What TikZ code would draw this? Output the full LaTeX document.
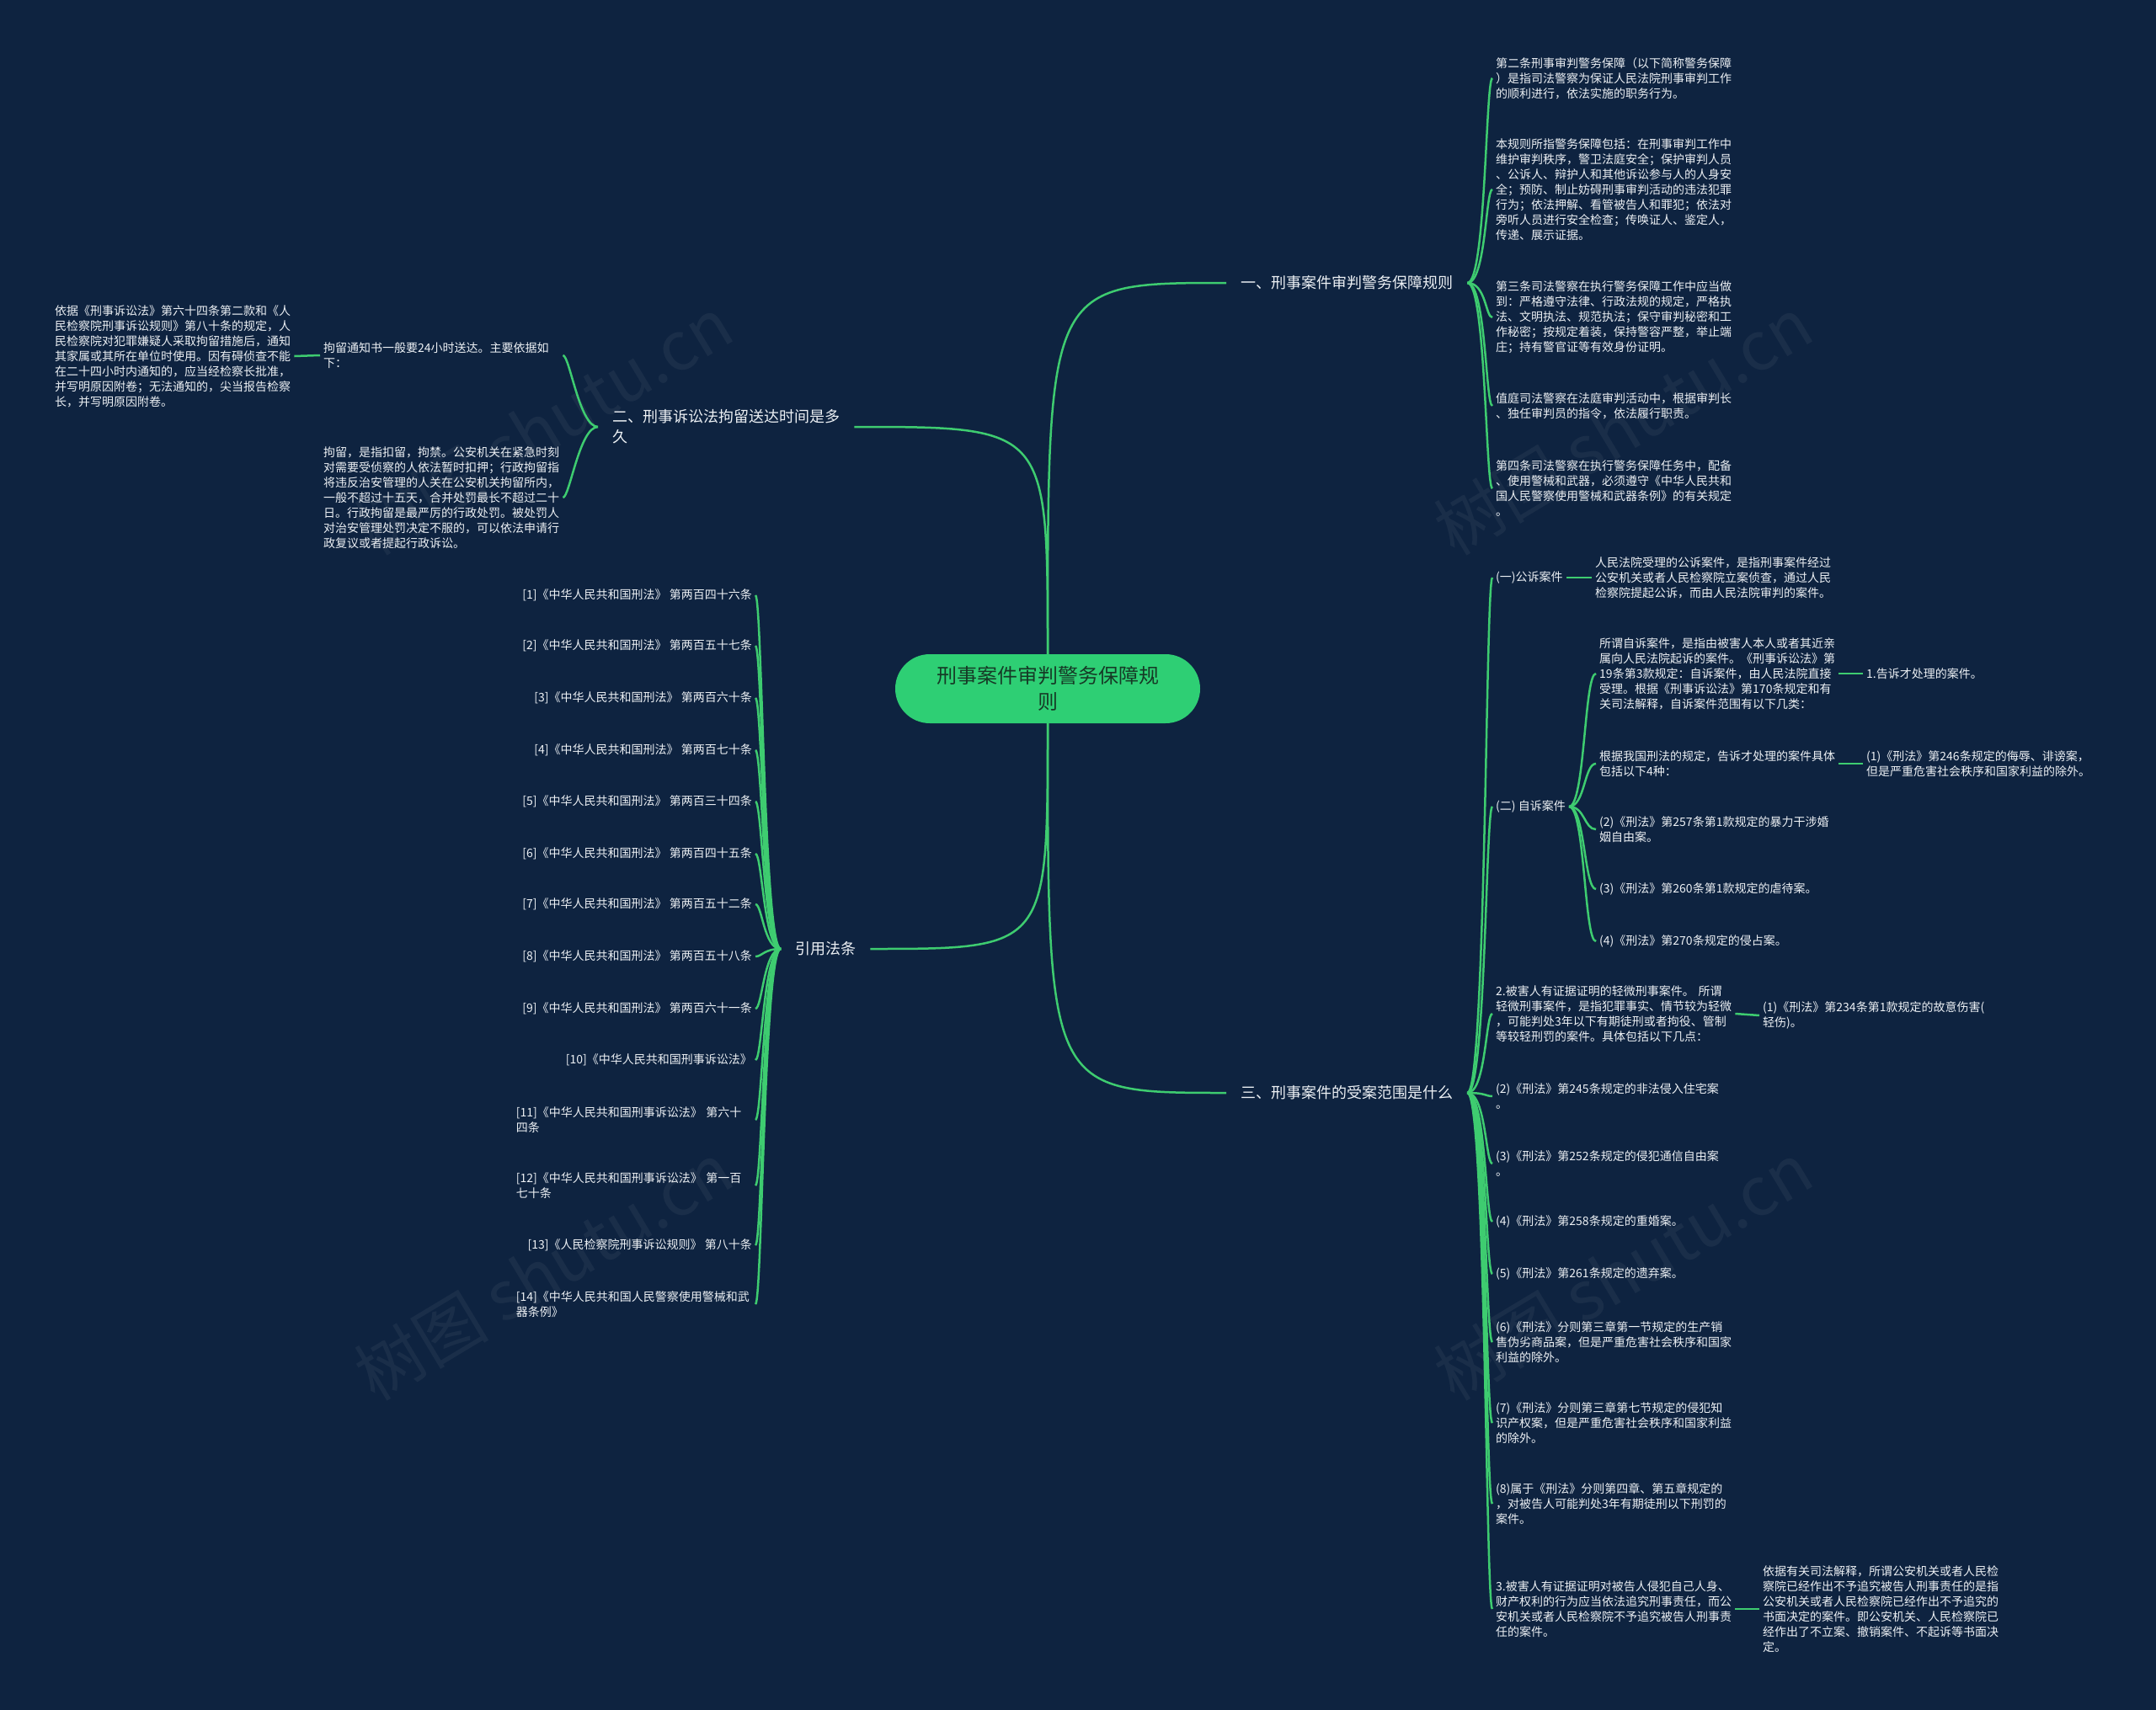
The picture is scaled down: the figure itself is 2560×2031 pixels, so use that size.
\documentclass[tikz,border=0pt]{standalone}
\usepackage{fontspec}
\setmainfont{Noto Sans CJK SC}
\definecolor{bg}{RGB}{14,35,64}
\definecolor{linec}{RGB}{62,204,112}
\definecolor{rootfill}{RGB}{46,207,116}
\definecolor{roottext}{RGB}{22,58,38}
\definecolor{txt}{RGB}{236,240,244}
\begin{document}
\begin{tikzpicture}[x=1pt,y=-1pt,
 every node/.style={inner sep=0pt, text=txt},
 root/.style={fill=rootfill, rounded corners=41pt, minimum width=362pt, minimum height=82pt, align=center, text=roottext, font=\fontsize{24}{31}\selectfont},
 lvone/.style={font=\fontsize{18}{24}\selectfont, align=left, inner xsep=17pt, inner ysep=3pt},
 leaf/.style={font=\fontsize{14}{18}\selectfont, align=left, inner xsep=4pt, inner ysep=2pt},
 wleaf/.style={leaf, text width=280pt},
 conn/.style={draw=linec, line width=2.5pt},
 wm/.style={rotate=31, text=white, opacity=0.05, font=\fontsize{80}{80}\selectfont}
]
\fill[bg] (0,0) rectangle (2560,2031);
\useasboundingbox (0,0) rectangle (2560,2031);

% watermarks
\node[wm] (wm1) at (645,506) {树图 shutu.cn};
\node[wm] (wm2) at (1927,506) {树图 shutu.cn};
\node[wm] (wm3) at (645,1510) {树图 shutu.cn};
\node[wm] (wm4) at (1927,1510) {树图 shutu.cn};

% root
\node[root] (root) at (1244,818) {刑事案件审判警务保障规\\则};

% level one
\node[lvone, anchor=west] (b1) at (1456,336) {一、刑事案件审判警务保障规则};
\node[lvone, anchor=west] (b3) at (1456,1298) {三、刑事案件的受案范围是什么};
\node[lvone, anchor=west] (b2) at (710,507) {二、刑事诉讼法拘留送达时间是多\\久};
\node[lvone, anchor=west] (b4) at (927,1127) {引用法条};

\draw[conn] (root.north) .. controls (1244,336) .. (b1.west);
\draw[conn] (root.south) .. controls (1244,1298) .. (b3.west);
\draw[conn] (root.north) .. controls (1244,507) .. (b2.east);
\draw[conn] (root.south) .. controls (1244,1127) .. (b4.east);

% branch one children
\node[leaf, anchor=west] (a1) at (1772,93) {第二条刑事审判警务保障（以下简称警务保障\\）是指司法警察为保证人民法院刑事审判工作\\的顺利进行，依法实施的职务行为。};
\node[leaf, anchor=west] (a2) at (1772,225) {本规则所指警务保障包括：在刑事审判工作中\\维护审判秩序，警卫法庭安全；保护审判人员\\、公诉人、辩护人和其他诉讼参与人的人身安\\全；预防、制止妨碍刑事审判活动的违法犯罪\\行为；依法押解、看管被告人和罪犯；依法对\\旁听人员进行安全检查；传唤证人、鉴定人，\\传递、展示证据。};
\node[leaf, anchor=west] (a3) at (1772,377) {第三条司法警察在执行警务保障工作中应当做\\到：严格遵守法律、行政法规的规定，严格执\\法、文明执法、规范执法；保守审判秘密和工\\作秘密；按规定着装，保持警容严整，举止端\\庄；持有警官证等有效身份证明。};
\node[leaf, anchor=west] (a4) at (1772,482) {值庭司法警察在法庭审判活动中，根据审判长\\、独任审判员的指令，依法履行职责。};
\node[leaf, anchor=west] (a5) at (1772,580) {第四条司法警察在执行警务保障任务中，配备\\、使用警械和武器，必须遵守《中华人民共和\\国人民警察使用警械和武器条例》的有关规定\\。};
\foreach \c in {a1,a2,a3,a4,a5}
  \draw[conn] (b1.east) .. controls +(22,0) and +(-8,0) .. (\c.west);

% branch two children
\node[wleaf, anchor=west] (e1) at (380,422) {拘留通知书一般要24小时送达。主要依据如\\下：};
\node[wleaf, anchor=west] (e2) at (380,591) {拘留，是指扣留，拘禁。公安机关在紧急时刻\\对需要受侦察的人依法暂时扣押；行政拘留指\\将违反治安管理的人关在公安机关拘留所内，\\一般不超过十五天，合并处罚最长不超过二十\\日。行政拘留是最严厉的行政处罚。被处罚人\\对治安管理处罚决定不服的，可以依法申请行\\政复议或者提起行政诉讼。};
\node[wleaf, anchor=west] (e3) at (61,423) {依据《刑事诉讼法》第六十四条第二款和《人\\民检察院刑事诉讼规则》第八十条的规定，人\\民检察院对犯罪嫌疑人采取拘留措施后，通知\\其家属或其所在单位时使用。因有碍侦查不能\\在二十四小时内通知的，应当经检察长批准，\\并写明原因附卷；无法通知的，尖当报告检察\\长，并写明原因附卷。};
\draw[conn] (b2.west) .. controls +(-22,0) and +(8,0) .. (e1.east);
\draw[conn] (b2.west) .. controls +(-22,0) and +(8,0) .. (e2.east);
\draw[conn] (e1.west) -- (e3.east);

% branch four children (references)
\node[leaf, anchor=east] (r1) at (897,707) {[1]《中华人民共和国刑法》 第两百四十六条};
\node[leaf, anchor=east] (r2) at (897,767) {[2]《中华人民共和国刑法》 第两百五十七条};
\node[leaf, anchor=east] (r3) at (897,829) {[3]《中华人民共和国刑法》 第两百六十条};
\node[leaf, anchor=east] (r4) at (897,891) {[4]《中华人民共和国刑法》 第两百七十条};
\node[leaf, anchor=east] (r5) at (897,952) {[5]《中华人民共和国刑法》 第两百三十四条};
\node[leaf, anchor=east] (r6) at (897,1014) {[6]《中华人民共和国刑法》 第两百四十五条};
\node[leaf, anchor=east] (r7) at (897,1074) {[7]《中华人民共和国刑法》 第两百五十二条};
\node[leaf, anchor=east] (r8) at (897,1136) {[8]《中华人民共和国刑法》 第两百五十八条};
\node[leaf, anchor=east] (r9) at (897,1198) {[9]《中华人民共和国刑法》 第两百六十一条};
\node[leaf, anchor=east] (r10) at (897,1259) {[10]《中华人民共和国刑事诉讼法》};
\node[wleaf, anchor=east] (r11) at (897,1330) {[11]《中华人民共和国刑事诉讼法》 第六十\\四条};
\node[wleaf, anchor=east] (r12) at (897,1408) {[12]《中华人民共和国刑事诉讼法》 第一百\\七十条};
\node[leaf, anchor=east] (r13) at (897,1479) {[13]《人民检察院刑事诉讼规则》 第八十条};
\node[wleaf, anchor=east] (r14) at (897,1549) {[14]《中华人民共和国人民警察使用警械和武\\器条例》};
\foreach \c in {r1,r2,r3,r4,r5,r6,r7,r8,r9,r10,r11,r12,r13,r14}
  \draw[conn] (b4.west) .. controls +(-20,0) and +(8,0) .. (\c.east);

% branch three children
\node[leaf, anchor=west] (g1) at (1772,686) {(一)公诉案件};
\node[leaf, anchor=west] (g2) at (1772,958) {(二) 自诉案件};
\node[wleaf, anchor=west] (g3) at (1772,1204) {2.被害人有证据证明的轻微刑事案件。 所谓\\轻微刑事案件，是指犯罪事实、情节较为轻微\\，可能判处3年以下有期徒刑或者拘役、管制\\等较轻刑罚的案件。具体包括以下几点：};
\node[leaf, anchor=west] (g4) at (1772,1302) {(2)《刑法》第245条规定的非法侵入住宅案\\。};
\node[leaf, anchor=west] (g5) at (1772,1382) {(3)《刑法》第252条规定的侵犯通信自由案\\。};
\node[leaf, anchor=west] (g6) at (1772,1451) {(4)《刑法》第258条规定的重婚案。};
\node[leaf, anchor=west] (g7) at (1772,1513) {(5)《刑法》第261条规定的遗弃案。};
\node[leaf, anchor=west] (g8) at (1772,1594) {(6)《刑法》分则第三章第一节规定的生产销\\售伪劣商品案，但是严重危害社会秩序和国家\\利益的除外。};
\node[leaf, anchor=west] (g9) at (1772,1690) {(7)《刑法》分则第三章第七节规定的侵犯知\\识产权案，但是严重危害社会秩序和国家利益\\的除外。};
\node[leaf, anchor=west] (g10) at (1772,1786) {(8)属于《刑法》分则第四章、第五章规定的\\，对被告人可能判处3年有期徒刑以下刑罚的\\案件。};
\node[wleaf, anchor=west] (g11) at (1772,1911) {3.被害人有证据证明对被告人侵犯自己人身、\\财产权利的行为应当依法追究刑事责任，而公\\安机关或者人民检察院不予追究被告人刑事责\\任的案件。};
\foreach \c in {g1,g2,g3,g4,g5,g6,g7,g8,g9,g10,g11}
  \draw[conn] (b3.east) .. controls +(22,0) and +(-8,0) .. (\c.west);

\node[leaf, anchor=west] (h1) at (1890,686) {人民法院受理的公诉案件，是指刑事案件经过\\公安机关或者人民检察院立案侦查，通过人民\\检察院提起公诉，而由人民法院审判的案件。};
\draw[conn] (g1.east) -- (h1.west);

\node[wleaf, anchor=west] (z1) at (1895,800) {所谓自诉案件，是指由被害人本人或者其近亲\\属向人民法院起诉的案件。《刑事诉讼法》第\\19条第3款规定：自诉案件，由人民法院直接\\受理。根据《刑事诉讼法》第170条规定和有\\关司法解释，自诉案件范围有以下几类：};
\node[wleaf, anchor=west] (z2) at (1895,907) {根据我国刑法的规定，告诉才处理的案件具体\\包括以下4种：};
\node[leaf, anchor=west] (z3) at (1895,985) {(2)《刑法》第257条第1款规定的暴力干涉婚\\姻自由案。};
\node[leaf, anchor=west] (z4) at (1895,1056) {(3)《刑法》第260条第1款规定的虐待案。};
\node[leaf, anchor=west] (z5) at (1895,1118) {(4)《刑法》第270条规定的侵占案。};
\foreach \c in {z1,z2,z3,z4,z5}
  \draw[conn] (g2.east) .. controls +(19,0) and +(-14,0) .. (\c.west);

\node[leaf, anchor=west] (k1) at (2212,800) {1.告诉才处理的案件。};
\node[leaf, anchor=west] (k2) at (2212,907) {(1)《刑法》第246条规定的侮辱、诽谤案，\\但是严重危害社会秩序和国家利益的除外。};
\draw[conn] (z1.east) -- (k1.west);
\draw[conn] (z2.east) -- (k2.west);

\node[leaf, anchor=west] (m1) at (2089,1206) {(1)《刑法》第234条第1款规定的故意伤害(\\轻伤)。};
\node[leaf, anchor=west] (m2) at (2089,1911) {依据有关司法解释，所谓公安机关或者人民检\\察院已经作出不予追究被告人刑事责任的是指\\公安机关或者人民检察院已经作出不予追究的\\书面决定的案件。即公安机关、人民检察院已\\经作出了不立案、撤销案件、不起诉等书面决\\定。};
\draw[conn] (g3.east) -- (m1.west);
\draw[conn] (g11.east) -- (m2.west);
\end{tikzpicture}
\end{document}
